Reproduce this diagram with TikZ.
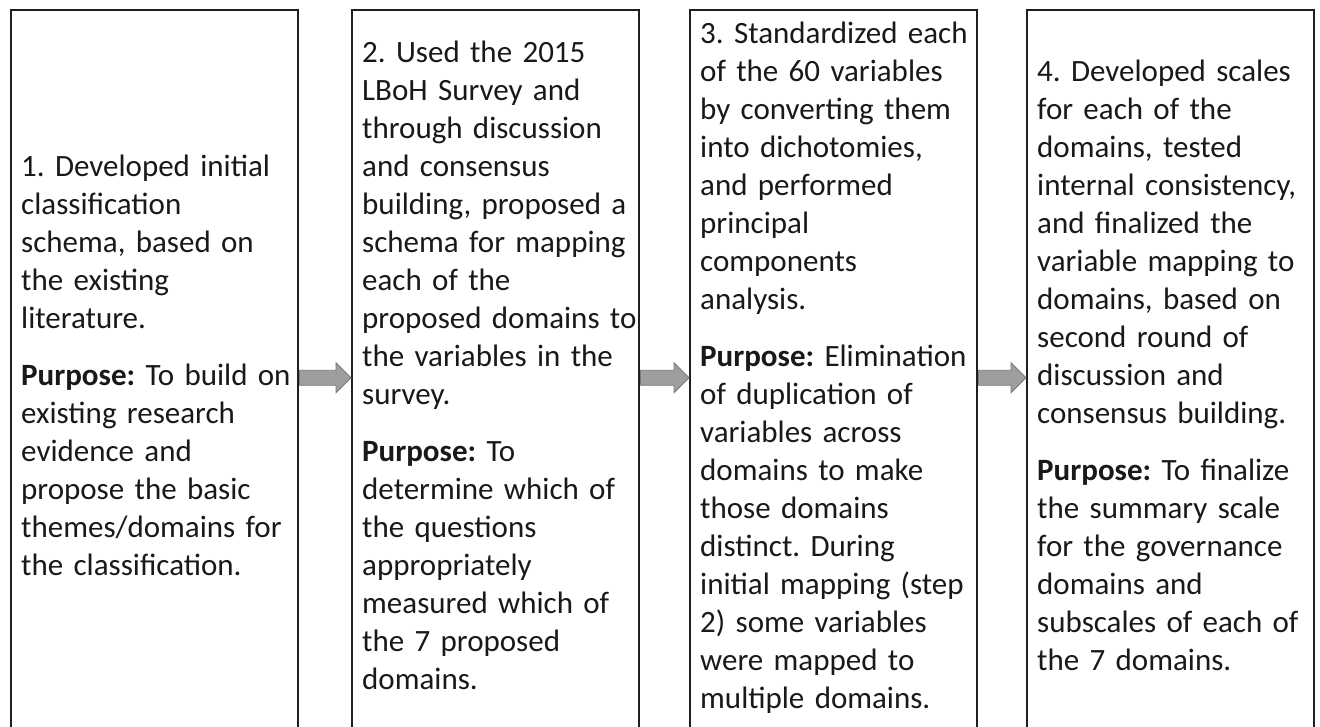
\documentclass[tikz,border=0pt]{standalone}
\usepackage{fontspec}
\setmainfont{Carlito}
\usetikzlibrary{calc}
\frenchspacing
\begin{document}
\frenchspacing
\begin{tikzpicture}[x=1pt,y=-1pt,
  box/.style={draw=black!88, line width=1.5pt, minimum width=287pt, minimum height=736pt, inner sep=0pt, anchor=north west},
  txt/.style={anchor=north west, inner sep=0pt, text width=300pt, align=left, font=\fontsize{31}{38}\selectfont\frenchspacing, text=black!90},
  blockarrow/.style={fill=black!38, draw=black!52, line width=0.8pt}]
\fill[white] (0,0) rectangle (1320,726);
\useasboundingbox (0,0) rectangle (1320,726);
\clip (0,0) rectangle (1320,726);

\node[box] (b1) at (10,9) {};
\node[box] (b2) at (351,9) {};
\node[box] (b3) at (689,9) {};
\node[box] (b4) at (1026,9) {};

\node[txt] (t1) at ($(b1.north west)+(11,140.9)$) {\strut 1. Developed initial\\ classification\\ schema, based on\\ the existing\\ literature.\\[19pt]
\textbf{Purpose:} To build on\\ existing research\\ evidence and\\ propose the basic\\ themes/domains for\\ the classification.};

\node[txt] (t2) at ($(b2.north west)+(11,26.9)$) {\strut 2. Used the 2015\\ LBoH Survey and\\ through discussion\\ and consensus\\ building, proposed a\\ schema for mapping\\ each of the\\ proposed domains to\\ the variables in the\\ survey.\\[19pt]
\textbf{Purpose:} To\\ determine which of\\ the questions\\ appropriately\\ measured which of\\ the 7 proposed\\ domains.};

\node[txt] (t3) at ($(b3.north west)+(11,7.9)$) {\strut 3. Standardized each\\ of the 60 variables\\ by converting them\\ into dichotomies,\\ and performed\\ principal\\ components\\ analysis.\\[19pt]
\textbf{Purpose:} Elimination\\ of duplication of\\ variables across\\ domains to make\\ those domains\\ distinct. During\\ initial mapping (step\\ 2) some variables\\ were mapped to\\ multiple domains.};

\node[txt] (t4) at ($(b4.north west)+(11,45.9)$) {\strut 4. Developed scales\\ for each of the\\ domains, tested\\ internal consistency,\\ and finalized the\\ variable mapping to\\ domains, based on\\ second round of\\ discussion and\\ consensus building.\\[19pt]
\textbf{Purpose:} To finalize\\ the summary scale\\ for the governance\\ domains and\\ subscales of each of\\ the 7 domains.};

\path[blockarrow] ($(b1.east)+(1,-7.5)$) -- ($(b2.west)+(-15,-7.5)$) -- ($(b2.west)+(-15,-15)$) -- (b2.west) -- ($(b2.west)+(-15,15)$) -- ($(b2.west)+(-15,7.5)$) -- ($(b1.east)+(1,7.5)$) -- cycle;
\path[blockarrow] ($(b2.east)+(1,-7.5)$) -- ($(b3.west)+(-15,-7.5)$) -- ($(b3.west)+(-15,-15)$) -- (b3.west) -- ($(b3.west)+(-15,15)$) -- ($(b3.west)+(-15,7.5)$) -- ($(b2.east)+(1,7.5)$) -- cycle;
\path[blockarrow] ($(b3.east)+(1,-7.5)$) -- ($(b4.west)+(-15,-7.5)$) -- ($(b4.west)+(-15,-15)$) -- (b4.west) -- ($(b4.west)+(-15,15)$) -- ($(b4.west)+(-15,7.5)$) -- ($(b3.east)+(1,7.5)$) -- cycle;
\end{tikzpicture}
\end{document}
